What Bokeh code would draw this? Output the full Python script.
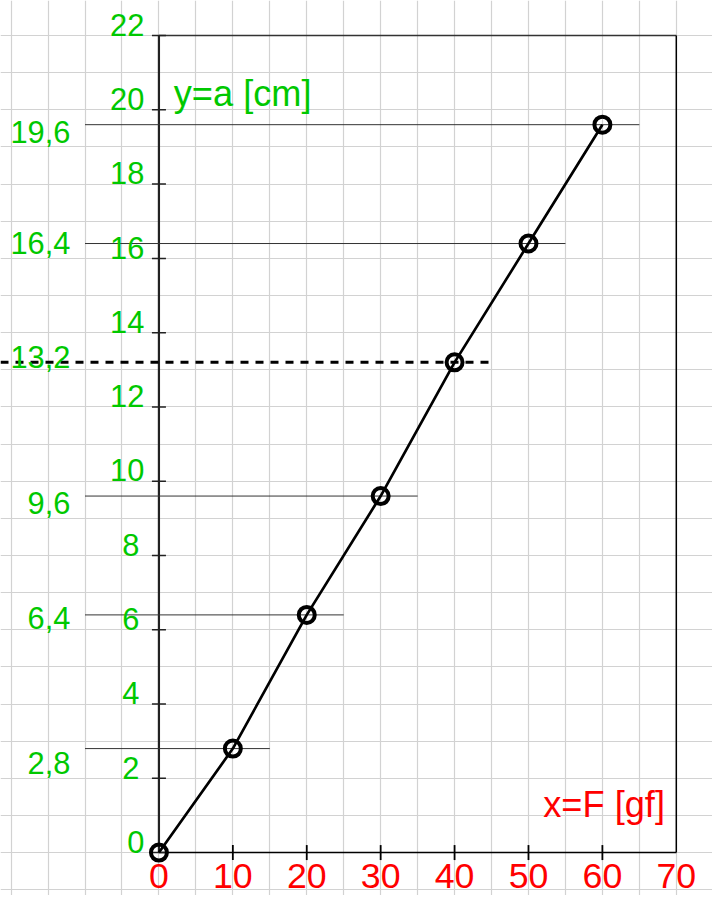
from bokeh.plotting import figure
from bokeh.models import Range1d, Grid, FixedTicker, ColumnDataSource
from bokeh.core.properties import value
from bokeh.embed import file_html
from bokeh.resources import INLINE

# ---- data ----
force = [0, 10, 20, 30, 40, 50, 60]            # x = F [gf]
length = [0, 2.8, 6.4, 9.6, 13.2, 16.4, 19.6]  # y = a [cm]
x_ticks = [0, 10, 20, 30, 40, 50, 60, 70]
x_tick_labels = ["0", "10", "20", "30", "40", "50", "60", "70"]
y_ticks = [0, 2, 4, 6, 8, 10, 12, 14, 16, 18, 20, 22]
y_tick_labels = ["0", "2", "4", "6", "8", "10", "12", "14", "16", "18", "20", "22"]
ref_values = [2.8, 6.4, 9.6, 16.4, 19.6]
ref_forces = [10, 20, 30, 50, 60]
ref_labels = ["2,8", "6,4", "9,6", "16,4", "19,6"]
dashed_value = 13.2
dashed_force = 40
dashed_label = "13,2"
x_title = "x=F [gf]"
y_title = "y=a [cm]"

# ---- styles ----
W, H = 712, 895
K = W / 728.0                      # pixel scale of the drawing
GREEN = "#00c800"
RED = "#ff0000"
FONT = value("Liberation Sans")
FS_G = "%.1fpx" % (31.5 * K)
FS_R = "%.1fpx" % (36.5 * K)
FS_T = "%.1fpx" % (37 * K)
X_MAX, Y_MAX = 70, 22
REF_START = -10
REF_EXT = 5
y_label_dx = [(-15 if (len(s) == 2 or s == "0") else -20) * K for s in y_tick_labels]
ref_label_dy = [v * K for v in [15, 3, 7, -1, 7]]

XR = Range1d(-21.437, 74.898)
YR = Range1d(-1.156, 22.944)
pxx = (XR.end - XR.start) / W      # data units per pixel (x)
pxy = (YR.end - YR.start) / H      # data units per pixel (y)

p = figure(width=W, height=H, output_backend="svg", toolbar_location=None,
           x_range=XR, y_range=YR,
           x_axis_location=None, y_axis_location=None, min_border=0,
           outline_line_color=None, background_fill_color="white")
p.xgrid.visible = False
p.ygrid.visible = False

gx = Grid(dimension=0, ticker=FixedTicker(ticks=list(range(-25, 80, 5))),
          grid_line_color="#d2d2d2", grid_line_width=1.2)
gy = Grid(dimension=1, ticker=FixedTicker(ticks=list(range(-2, 25, 1))),
          grid_line_color="#d2d2d2", grid_line_width=1.2)
p.add_layout(gx)
p.add_layout(gy)

# frame
p.line([0, 0], [0, Y_MAX], line_color="#222222", line_width=2.2)
p.line([0, X_MAX], [Y_MAX, Y_MAX], line_color="#333333", line_width=1.5)
p.line([X_MAX, X_MAX], [0, Y_MAX], line_color="black", line_width=1.5)
p.line([0, X_MAX], [0, 0], line_color="black", line_width=1.5)

# ticks
p.segment(x0=[-7 * pxx] * len(y_ticks), x1=[7 * pxx] * len(y_ticks), y0=y_ticks, y1=y_ticks,
          line_color="#222222", line_width=1.5)
xtk = [t for t in x_ticks if 0 < t < X_MAX]
p.segment(x0=xtk, x1=xtk, y0=[-7.5 * pxy] * len(xtk), y1=[7.5 * pxy] * len(xtk),
          line_color="black", line_width=1.8)

# reference lines
p.segment(x0=[REF_START] * len(ref_values), x1=[f + REF_EXT for f in ref_forces],
          y0=ref_values, y1=ref_values, line_color="#333333", line_width=1)
p.segment(x0=[XR.start], x1=[dashed_force + REF_EXT], y0=[dashed_value], y1=[dashed_value],
          line_color="black", line_width=3, line_dash="8 7")

# data
src = ColumnDataSource(dict(x=force, y=length))
p.line("x", "y", source=src, line_color="black", line_width=2.7)
p.scatter("x", "y", source=src, size=16, fill_color=None, line_color="black", line_width=4)

# tick labels
p.text(x=[0] * len(y_ticks), y=y_ticks, text=y_tick_labels, x_offset=y_label_dx,
       y_offset=-11 * K, text_align="right", text_baseline="middle", text_color=GREEN,
       text_font=FONT, text_font_size=FS_G)
p.text(x=x_ticks, y=[0] * len(x_ticks), text=x_tick_labels, y_offset=24 * K,
       text_align="center", text_baseline="middle", text_color=RED,
       text_font=FONT, text_font_size=FS_R)

# reference labels
p.text(x=[REF_START] * len(ref_values), y=ref_values, text=ref_labels, x_offset=-15 * K,
       y_offset=ref_label_dy, text_align="right", text_baseline="middle",
       text_color=GREEN, text_font=FONT, text_font_size=FS_G)
p.text(x=[REF_START], y=[dashed_value], text=[dashed_label], x_offset=-15 * K, y_offset=-5 * K,
       text_align="right", text_baseline="middle", text_color=GREEN,
       text_font=FONT, text_font_size=FS_G)

# titles
p.text(x=[2], y=[20], text=[y_title], y_offset=-17 * K, text_align="left",
       text_baseline="middle", text_color=GREEN, text_font=FONT, text_font_size=FS_T)
p.text(x=[52], y=[1], text=[x_title], y_offset=-11 * K, text_align="left",
       text_baseline="middle", text_color=RED, text_font=FONT, text_font_size=FS_T)

open("out.html", "w").write(file_html(p, INLINE))
